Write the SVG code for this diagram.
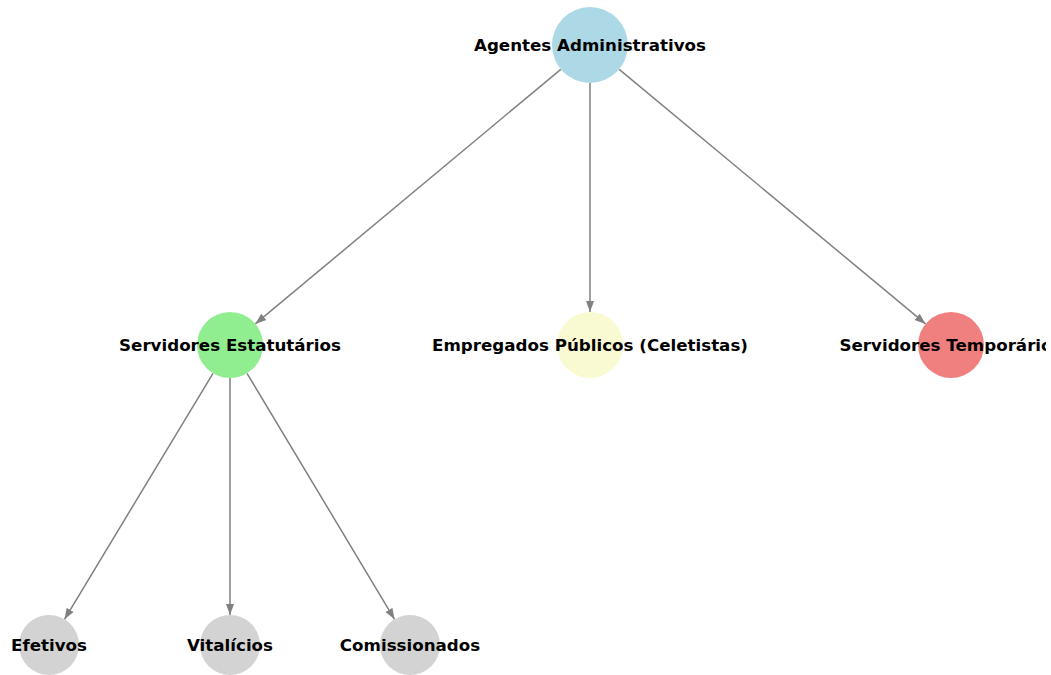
<svg xmlns="http://www.w3.org/2000/svg" width="1051" height="675" viewBox="0 0 1051 675">
<style>
.edge{stroke:#808080;stroke-width:1.5;fill:none;marker-end:url(#arr)}
.lbl{font-family:"DejaVu Sans",sans-serif;font-weight:bold;font-size:16.7px;fill:#000;text-anchor:middle;dominant-baseline:central}
</style>
<defs>
<marker id="arr" markerUnits="userSpaceOnUse" markerWidth="12" markerHeight="10" viewBox="0 0 12 10" refX="11" refY="5" orient="auto">
<path d="M0,1 L11,5 L0,9 Z" fill="#808080"/>
</marker>
<clipPath id="clip"><rect x="0" y="0" width="1046" height="675"/></clipPath>
</defs>
<rect width="1051" height="675" fill="#fff"/>
<g clip-path="url(#clip)">
<g id="edges">
<line class="edge" x1="560.8" y1="69.3" x2="255.3" y2="323.9"/>
<line class="edge" x1="590" y1="83" x2="590" y2="312"/>
<line class="edge" x1="619.2" y1="69.3" x2="925.6" y2="323.9"/>
<line class="edge" x1="213" y1="373.3" x2="64.5" y2="619.3"/>
<line class="edge" x1="230" y1="378" x2="230" y2="615"/>
<line class="edge" x1="247" y1="373.3" x2="394.6" y2="619.3"/>
</g>
<g id="agentes"><circle cx="590" cy="45" r="38" fill="#ADD8E6"/><text class="lbl" x="590" y="45">Agentes Administrativos</text></g>
<g id="estatutarios"><circle cx="230" cy="345" r="33" fill="#90EE90"/><text class="lbl" x="230" y="345">Servidores Estatutários</text></g>
<g id="empregados"><circle cx="590" cy="345" r="33" fill="#FAFAD2"/><text class="lbl" x="590" y="345">Empregados Públicos (Celetistas)</text></g>
<g id="temporarios"><circle cx="951" cy="345" r="33" fill="#F08080"/><text class="lbl" x="951" y="345">Servidores Temporários</text></g>
<g id="efetivos"><circle cx="49" cy="645" r="30" fill="#D3D3D3"/><text class="lbl" x="49" y="645">Efetivos</text></g>
<g id="vitalicios"><circle cx="230" cy="645" r="30" fill="#D3D3D3"/><text class="lbl" x="230" y="645">Vitalícios</text></g>
<g id="comissionados"><circle cx="410" cy="645" r="30" fill="#D3D3D3"/><text class="lbl" x="410" y="645">Comissionados</text></g>
</g>
</svg>
